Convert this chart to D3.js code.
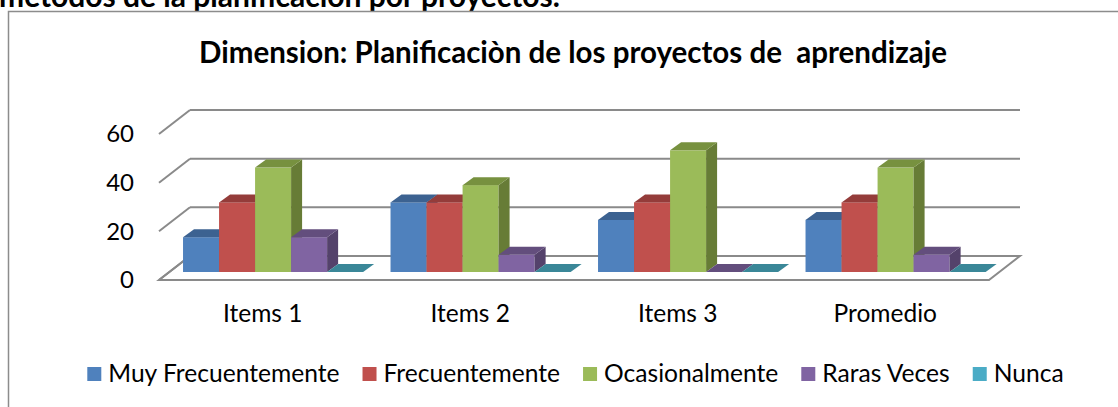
<!DOCTYPE html>
<html>
<head>
<meta charset="utf-8">
<script src="https://cdn.jsdelivr.net/npm/d3@7"></script>
<style>
  body { margin: 0; background: #fff; }
  svg { display: block; }
  .lbl { font-family: Lato, "Open Sans", sans-serif; fill: #000; }
</style>
</head>
<body>
<div id="chart"></div>
<script>
// data (percent of answers)
const categories = ["Items 1", "Items 2", "Items 3", "Promedio"]
const series = ["Muy Frecuentemente", "Frecuentemente", "Ocasionalmente", "Raras Veces", "Nunca"]
const muyFrecuentemente = [14.3, 28.6, 21.4, 21.4]
const frecuentemente = [28.6, 28.6, 28.6, 28.6]
const ocasionalmente = [42.9, 35.7, 50, 42.9]
const rarasVeces = [14.3, 7.1, 0, 7.1]
const nunca = [0, 0, 0, 0]
const yTicks = [0, 20, 40, 60]
const values = [muyFrecuentemente, frecuentemente, ocasionalmente, rarasVeces, nunca]

// colours: front face, top face, side face
const frontColors = ["#4f81bd", "#c0504d", "#9bbb59", "#8064a2", "#4bacc6"]
const topColors = ["#3c6291", "#943c3a", "#77913f", "#634e7d", "#3a8798"]
const sideColors = ["#34567f", "#7f3331", "#677c36", "#54426b", "#2f7282"]

const W = 1118, H = 407

let svg = d3.select("#chart").append("svg").attr("width", W).attr("height", H)

// header text cut off at the top of the picture
svg.append("text").attr("x", -1).attr("y", 7).attr("class", "lbl")
  .style("font-weight", "bold").style("font-size", "30px")
  .text("métodos de la planificación por proyectos.")

// chart frame (runs past the right and bottom edges)
svg.append("rect").attr("x", 8.5).attr("y", 11.5).attr("width", 1200).attr("height", 500)
  .attr("fill", "#fff").attr("stroke", "#8c8c8c").attr("stroke-width", 1.5)

// title
svg.append("text").attr("x", 573).attr("y", 63).attr("text-anchor", "middle").attr("class", "lbl")
  .style("font-weight", "bold").style("font-size", "29.5px").style("white-space", "pre")
  .text("Dimension: Planificaciòn de los proyectos de  aprendizaje")

// 3d geometry
const fx0 = 159, fx1 = 989, fy0 = 280   // front edge of the floor
const dX = 31, dY = 24                  // full depth of the floor
const bx = dX / 3, by = dY / 3          // bars front plane
const bdx = 11, bdy = 8                 // bar depth

let y = d3.scaleLinear().domain([0, 60]).range([0, 146])
let x0 = d3.scaleBand().domain(categories).range([fx0, fx1])
let gap = x0.bandwidth() * 0.066
let x1 = d3.scaleBand().domain(series).range([gap, x0.bandwidth() - gap])

const gridColor = "#8a8a8a"

// floor
svg.append("path")
  .attr("d", `M${fx0},${fy0} L${fx1},${fy0} L${fx1 + dX},${fy0 - dY} L${fx0 + dX},${fy0 - dY} Z`)
  .attr("fill", "#fff").attr("stroke", gridColor).attr("stroke-width", 2)

// gridlines on back wall + side wall diagonals
yTicks.forEach(t => {
  let h = y(t)
  svg.append("line").attr("x1", fx0 + dX).attr("x2", fx1 + dX)
    .attr("y1", fy0 - dY - h).attr("y2", fy0 - dY - h)
    .attr("stroke", gridColor).attr("stroke-width", 2)
  svg.append("line").attr("x1", fx0).attr("x2", fx0 + dX)
    .attr("y1", fy0 - h).attr("y2", fy0 - dY - h)
    .attr("stroke", gridColor).attr("stroke-width", 2)
  svg.append("text").attr("x", 134).attr("y", fy0 - h).attr("dy", "0.35em")
    .attr("text-anchor", "end").attr("class", "lbl").style("font-size", "24px").text(t)
})

// bars, left to right so each one covers the side of the previous one
categories.forEach((c, i) => {
  series.forEach((s, j) => {
    let v = values[j][i]
    let xL = x0(c) + x1(s) + bx
    let xR = xL + x1.bandwidth()
    let yB = fy0 - by
    let yT = yB - y(v)
    let g = svg.append("g")
    if (v > 0) {
      g.append("rect").attr("x", xL).attr("y", yT).attr("width", xR - xL).attr("height", yB - yT)
        .attr("fill", frontColors[j])
      g.append("path")
        .attr("d", `M${xR},${yT} L${xR + bdx},${yT - bdy} L${xR + bdx},${yB - bdy} L${xR},${yB} Z`)
        .attr("fill", sideColors[j])
    }
    g.append("path")
      .attr("d", `M${xL},${yT} L${xR},${yT} L${xR + bdx},${yT - bdy} L${xL + bdx},${yT - bdy} Z`)
      .attr("fill", topColors[j])
  })
})

// category labels
categories.forEach(c => {
  svg.append("text").attr("x", x0(c) + x0.bandwidth() / 2).attr("y", 322)
    .attr("text-anchor", "middle").attr("class", "lbl").style("font-size", "24.5px").text(c)
})

// legend
let legend = svg.append("g")
let lx = 0
series.forEach((s, j) => {
  legend.append("rect").attr("x", lx).attr("y", 367).attr("width", 14).attr("height", 14)
    .style("fill", frontColors[j])
  let t = legend.append("text").attr("x", lx + 21).attr("y", 382).attr("class", "lbl")
    .style("font-size", "24.6px").text(s)
  lx += 21 + t.node().getComputedTextLength() + 23
})
lx -= 23
legend.attr("transform", `translate(${575.5 - lx / 2},0)`)
</script>
</body>
</html>
